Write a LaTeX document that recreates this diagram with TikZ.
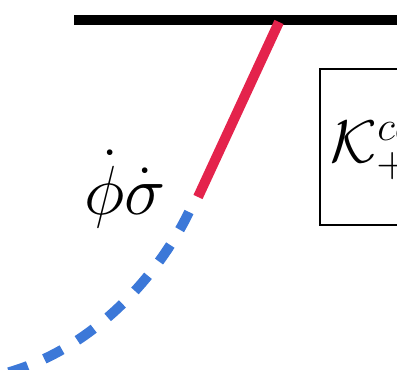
\documentclass[tikz,border=0pt]{standalone}
\definecolor{redln}{HTML}{E4234C}
\definecolor{blueln}{HTML}{3C78D8}
\tikzset{
  bar/.style={line width=10pt, black},
  redseg/.style={line width=10pt, redln},
  bluedash/.style={line width=10pt, blueln, dash pattern=on 20pt off 18pt},
  frame/.style={draw, line width=2pt, inner sep=0pt},
  bigmath/.style={inner sep=0pt, font=\fontsize{20}{24}\selectfont, scale=2.9, transform shape},
  biglabel/.style={inner sep=0pt, font=\fontsize{20}{24}\selectfont, scale=3.35, transform shape}
}
\begin{document}
\begin{tikzpicture}[x=1pt,y=-1pt]
\useasboundingbox (0,0) rectangle (397,370);
\clip (0,0) rectangle (397,370);
\coordinate (barL) at (74,20);
\coordinate (barR) at (420,20);
\coordinate (redT) at (279,22);
\coordinate (redB) at (198,197);
\coordinate (blueT) at (189,212);
\coordinate (blueE) at (-10,377);
\draw[bar] (barL) -- (barR);
\draw[redseg] (redT) -- (redB);
\draw[bluedash] (blueT) .. controls (160,272) and (92,356) .. (blueE);
\node[frame, anchor=north west, minimum width=120pt, minimum height=156pt] (box) at (319,68) {};
\node[bigmath, anchor=base west] (K) at (330,162) {$\mathcal{K}^{ca}_{+}$};
\node[biglabel, anchor=base west] (lbl) at (84,214) {$\dot\phi\dot\sigma$};
\end{tikzpicture}
\end{document}
